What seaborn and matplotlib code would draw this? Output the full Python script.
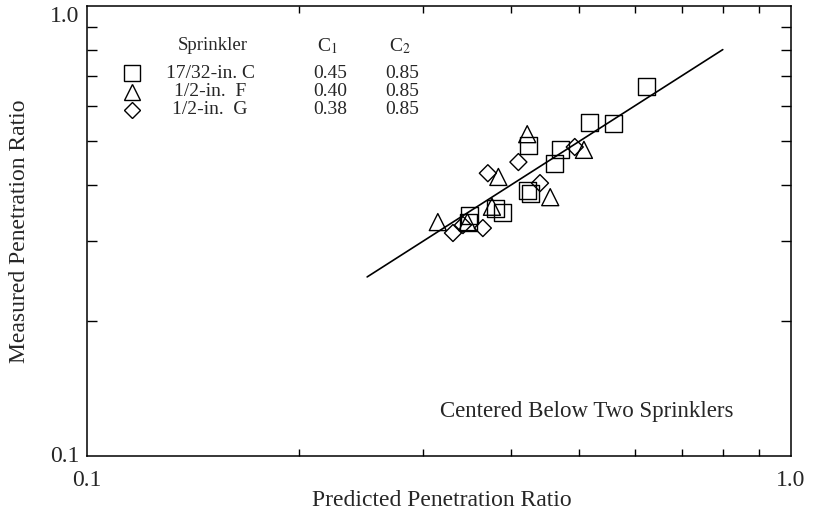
import numpy as np
import pandas as pd
import matplotlib
matplotlib.use("Agg")
import matplotlib.pyplot as plt
from matplotlib.ticker import FixedLocator, LogLocator, NullFormatter, FixedFormatter
import seaborn as sns

# ---- data ----
sq_x = [0.624, 0.518, 0.559, 0.424, 0.471, 0.462, 0.422, 0.426, 0.349, 0.348, 0.380, 0.389]
sq_y = [0.664, 0.550, 0.547, 0.489, 0.479, 0.446, 0.390, 0.384, 0.343, 0.331, 0.354, 0.347]
tri_x = [0.422, 0.508, 0.384, 0.455, 0.315, 0.347, 0.376]
tri_y = [0.519, 0.479, 0.417, 0.376, 0.331, 0.331, 0.358]
dia_x = [0.410, 0.493, 0.371, 0.440, 0.331, 0.365, 0.342]
dia_y = [0.450, 0.486, 0.425, 0.404, 0.313, 0.321, 0.326]
line_x = [0.25, 0.8]
line_y = [0.25, 0.8]

tick_vals = [0.1, 1.0]
tick_labels = ["0.1", "1.0"]

sprinklers = ["17/32-in. C", "1/2-in.  F", "1/2-in.  G"]
c1_vals = ["0.45", "0.40", "0.38"]
c2_vals = ["0.85", "0.85", "0.85"]
markers = ["s", "^", "D"]

sns.set_theme(style="white")
plt.rcParams["font.family"] = ["Liberation Serif", "DejaVu Serif"]
plt.rcParams["mathtext.fontset"] = "stix"

W, H = 813, 518
fig = plt.figure(figsize=(W / 100, H / 100), dpi=100)
ax = fig.add_axes([87 / W, 1 - 456 / H, (791 - 87) / W, (456 - 6) / H])

groups = [(sq_x, sq_y, "s", 150), (tri_x, tri_y, "^", 150), (dia_x, dia_y, "D", 75)]
for gx, gy, m, s in groups:
    df = pd.DataFrame({"x": gx, "y": gy})
    sns.scatterplot(data=df, x="x", y="y", marker=m, s=s, facecolor="none",
                    edgecolor="black", linewidth=1.0, ax=ax, zorder=3)

ldf = pd.DataFrame({"x": line_x, "y": line_y})
sns.lineplot(data=ldf, x="x", y="y", color="black", linewidth=1.2, ax=ax, zorder=2)

ax.set_xscale("log")
ax.set_yscale("log")
ax.set_xlim(tick_vals[0], tick_vals[1])
ax.set_ylim(tick_vals[0], tick_vals[1])

for axis in (ax.xaxis, ax.yaxis):
    axis.set_major_locator(FixedLocator(tick_vals))
    axis.set_minor_locator(LogLocator(base=10, subs=np.arange(2, 10)))
    axis.set_minor_formatter(NullFormatter())
ax.xaxis.set_major_formatter(FixedFormatter(tick_labels))
ax.yaxis.set_major_formatter(NullFormatter())

ax.tick_params(which="both", direction="in", top=True, right=True, bottom=True, left=True,
               color="black", width=1.0)
ax.tick_params(axis="x", which="major", length=0, labelsize=17, pad=10)
ax.tick_params(axis="y", which="major", length=0)
ax.tick_params(axis="x", which="minor", length=5)
ax.tick_params(axis="y", which="minor", length=7)

# y tick labels (positioned like the reference)
ytr = ax.get_yaxis_transform()
ax.text(-0.011, tick_vals[1], tick_labels[1], transform=ytr, ha="right", va="top", fontsize=17)
ax.text(-0.011, tick_vals[0], tick_labels[0], transform=ytr, ha="right", va="center",
        fontsize=17)

for sp in ax.spines.values():
    sp.set_color("black")
    sp.set_linewidth(1.1)

ax.set_xlabel("Predicted Penetration Ratio", fontsize=17)
ax.set_ylabel("Measured Penetration Ratio", fontsize=17)
ax.xaxis.set_label_coords(0.504, -0.076)
ax.yaxis.set_label_coords(-0.081, 0.5)

def ft(x, y, s, ha="center", **kw):
    fig.text(x / W, 1 - y / H, s, ha=ha, va="center", **kw)

ft(213, 45, "Sprinkler", fontsize=13.5)
ft(327, 46, r"C$_1$", fontsize=14)
ft(400, 46, r"C$_2$", fontsize=14)
rows = [73, 92, 110]
for i, yy in enumerate(rows):
    ax.plot([132 / W], [1 - yy / H], marker=markers[i], markersize=11.5 if i < 2 else 8.5,
            markerfacecolor="none", markeredgecolor="black", markeredgewidth=1.0,
            transform=fig.transFigure, clip_on=False, linestyle="none")
    ft(210, yy, sprinklers[i], fontsize=14)
    ft(330, yy, c1_vals[i], fontsize=14)
    ft(402, yy, c2_vals[i], fontsize=14)

ft(733, 412, "Centered Below Two Sprinklers", ha="right", fontsize=16.5)

fig.savefig("out.png", dpi=100)
